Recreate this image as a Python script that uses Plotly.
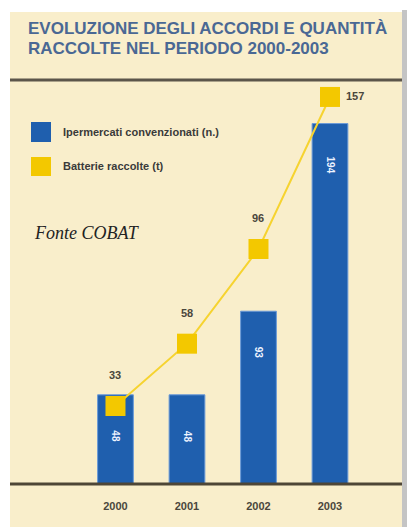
import plotly.graph_objects as go

years = ["2000", "2001", "2002", "2003"]
ipermercati = [48, 48, 93, 194]
batterie = [33, 58, 96, 157]
title_lines = ["EVOLUZIONE DEGLI ACCORDI E QUANTITÀ", "RACCOLTE NEL PERIODO 2000-2003"]
legend_labels = ["Ipermercati convenzionati (n.)", "Batterie raccolte (t)"]
source_text = "Fonte COBAT"

W, H = 407, 527
PB = 484  # px of plot bottom (baseline)
BLUE = "#1f5fae"
YELLOW = "#f3c800"
CREAM = "#f9eecb"
LABEL = "#4a463c"

def px_x(p):
    return p / W

def px_y(p):
    return (PB - p) / PB

fig = go.Figure()

fig.add_trace(go.Bar(
    x=years, y=ipermercati, width=0.5,
    marker=dict(color=BLUE, line=dict(color="#6a9ad8", width=1)),
    showlegend=False, hoverinfo="skip",
))

fig.add_trace(go.Scatter(
    x=years, y=batterie, yaxis="y2", mode="lines+markers",
    line=dict(color="#f6d330", width=2),
    marker=dict(symbol="square", size=20, color=YELLOW),
    showlegend=False, hoverinfo="skip",
))

annotations = []
# bar value labels (rotated, white)
for i, v in enumerate(ipermercati):
    annotations.append(dict(x=i, y=v, xref="x", yref="y", text=f"<b>{v}</b>",
                            showarrow=False, textangle=90, yshift=-42,
                            font=dict(family="Liberation Sans", size=10, color="#eef3ff")))
# line value labels
for i, v in enumerate(batterie):
    if i < len(batterie) - 1:
        annotations.append(dict(x=i, y=v, xref="x", yref="y2", text=f"<b>{v}</b>",
                                showarrow=False, yshift=31,
                                font=dict(family="Liberation Sans", size=11, color=LABEL)))
    else:
        annotations.append(dict(x=i, y=v, xref="x", yref="y2", text=f"<b>{v}</b>",
                                showarrow=False, xshift=25, yshift=1,
                                font=dict(family="Liberation Sans", size=11, color=LABEL)))

# title
for line, ypx in zip(title_lines, [29, 48]):
    annotations.append(dict(x=px_x(26), y=px_y(ypx), xref="paper", yref="paper",
                            xanchor="left", yanchor="middle", showarrow=False,
                            text=f"<b>{line}</b>",
                            font=dict(family="Liberation Sans", size=17, color="#4a6894")))
# legend
for lab, ypx in zip(legend_labels, [132, 166]):
    annotations.append(dict(x=px_x(61), y=px_y(ypx), xref="paper", yref="paper",
                            xanchor="left", yanchor="middle", showarrow=False,
                            text=f"<b>{lab}</b>",
                            font=dict(family="Liberation Sans", size=11, color="#3a3a3a")))
# source
annotations.append(dict(x=px_x(32), y=px_y(233), xref="paper", yref="paper",
                        xanchor="left", yanchor="middle", showarrow=False,
                        text=f"<i>{source_text}</i>",
                        font=dict(family="Liberation Serif", size=18, color="#222222")))

shapes = [
    dict(type="rect", xref="paper", yref="paper", x0=px_x(10), x1=px_x(402),
         y0=px_y(H + 5), y1=px_y(12), fillcolor=CREAM, line=dict(width=0), layer="below"),
    dict(type="rect", xref="paper", yref="paper", x0=px_x(402), x1=px_x(W + 5),
         y0=px_y(H + 5), y1=px_y(10), fillcolor="#c4c4c4", line=dict(width=0), layer="below"),
    dict(type="line", xref="paper", yref="paper", x0=px_x(10), x1=px_x(402),
         y0=px_y(80), y1=px_y(80), line=dict(color="#5c554a", width=3)),
    dict(type="line", xref="paper", yref="paper", x0=px_x(10), x1=px_x(402),
         y0=px_y(484), y1=px_y(484), line=dict(color="#4e4636", width=3)),
    dict(type="rect", xref="paper", yref="paper", x0=px_x(31), x1=px_x(51),
         y0=px_y(142), y1=px_y(122), fillcolor=BLUE, line=dict(width=0)),
    dict(type="rect", xref="paper", yref="paper", x0=px_x(31), x1=px_x(51),
         y0=px_y(176), y1=px_y(157), fillcolor=YELLOW, line=dict(width=0)),
]

fig.update_layout(
    width=W, height=H,
    margin=dict(l=0, r=0, t=0, b=H - PB, pad=0),
    paper_bgcolor="white", plot_bgcolor="rgba(0,0,0,0)",
    xaxis=dict(type="category", range=[-1.615, 4.077], showgrid=False, zeroline=False,
               showline=False, ticks="outside", ticklen=12, tickcolor="rgba(0,0,0,0)",
               tickfont=dict(family="Liberation Sans", size=11, color="#4a463c"),
               tickprefix="<b>", ticksuffix="</b>"),
    yaxis=dict(range=[0, PB / 1.858], visible=False),
    yaxis2=dict(range=[1.7, 195.9], overlaying="y", visible=False),
    shapes=shapes, annotations=annotations,
    bargap=0.5,
)

fig.write_html("out.html",
               config={"displayModeBar": False},
               post_script="document.body.style.margin='0';document.body.style.overflow='hidden';")
